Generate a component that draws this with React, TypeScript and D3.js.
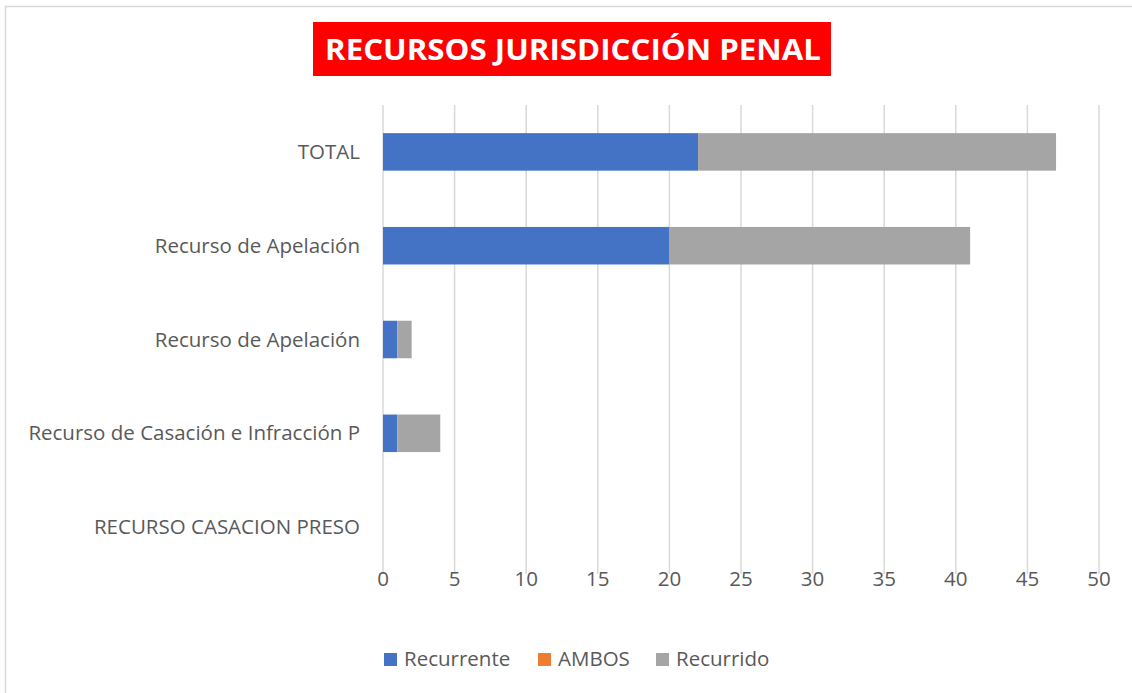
// Recursos jurisdicción penal - stacked horizontal bars
import { useEffect, useRef } from 'react'
import * as d3 from 'd3'

const categories = [
  'TOTAL',
  'Recurso de Apelación',
  'Recurso de Apelación ',
  'Recurso de Casación e Infracción P',
  'RECURSO CASACION PRESO',
]
const recurrente = [22, 20, 1, 1, 0]
const ambos = [0, 0, 0, 0, 0]
const recurrido = [25, 21, 1, 3, 0]
const seriesNames = ['Recurrente', 'AMBOS', 'Recurrido']
const seriesColors = ['#4472C4', '#ED7D31', '#A5A5A5']
const xTicks = [0, 5, 10, 15, 20, 25, 30, 35, 40, 45, 50]

const W = 1132
const H = 693
const FONT = "'Open Sans', 'Noto Sans', sans-serif"
const LABEL_SIZE = 20.5

export default function App() {
  const svgRef = useRef<SVGSVGElement>(null)

  useEffect(() => {
    if (!svgRef.current) return
    const svg = d3.select(svgRef.current)
    svg.selectAll('*').remove()

    const plot = { left: 383, right: 1099, top: 105, bottom: 574 }

    // chart frame
    svg.append('path')
      .attr('d', `M5.5,${H} V6.5 H${W}`)
      .attr('fill', 'none')
      .attr('stroke', '#D9D9D9')
      .attr('stroke-width', 1.5)

    // title
    svg.append('rect')
      .attr('x', 313).attr('y', 22)
      .attr('width', 518).attr('height', 54)
      .attr('fill', '#FF0000')
    svg.append('text')
      .attr('x', 573).attr('y', 50)
      .attr('dy', '0.36em')
      .attr('text-anchor', 'middle')
      .attr('font-family', FONT)
      .attr('font-weight', 'bold')
      .attr('font-size', 29)
      .attr('textLength', 496)
      .attr('lengthAdjust', 'spacingAndGlyphs')
      .attr('fill', '#fff')
      .text('RECURSOS JURISDICCIÓN PENAL')

    const x = d3.scaleLinear().domain([0, 50]).range([plot.left, plot.right])
    const y = d3.scaleBand<string>()
      .domain(categories)
      .range([plot.top, plot.bottom])
      .paddingInner(0.6)
      .paddingOuter(0.3)

    // gridlines
    svg.append('g')
      .selectAll('line')
      .data(xTicks)
      .join('line')
      .attr('x1', d => x(d)).attr('x2', d => x(d))
      .attr('y1', plot.top).attr('y2', plot.bottom)
      .attr('stroke', '#D9D9D9')
      .attr('stroke-width', 1.5)

    // tick labels
    svg.append('g')
      .selectAll('text')
      .data(xTicks)
      .join('text')
      .attr('x', d => x(d))
      .attr('y', 579)
      .attr('dy', '0.35em')
      .attr('text-anchor', 'middle')
      .attr('font-family', FONT)
      .attr('font-size', LABEL_SIZE)
      .attr('fill', '#595959')
      .text(d => String(d))

    // category labels
    svg.append('g')
      .selectAll('text')
      .data(categories)
      .join('text')
      .attr('x', 360)
      .attr('y', d => (y(d) ?? 0) + y.bandwidth() / 2)
      .attr('dy', '0.35em')
      .attr('text-anchor', 'end')
      .attr('font-family', FONT)
      .attr('font-size', LABEL_SIZE)
      .attr('fill', '#595959')
      .text(d => d.trim())

    // stacked bars
    const rows = categories.map((c, i) => ({
      cat: c, Recurrente: recurrente[i], AMBOS: ambos[i], Recurrido: recurrido[i],
    }))
    const stack = d3.stack<any>().keys(seriesNames)(rows)
    stack.forEach((layer, si) => {
      svg.append('g')
        .selectAll('rect')
        .data(layer.filter(d => d[1] - d[0] > 0))
        .join('rect')
        .attr('x', d => x(d[0]))
        .attr('y', d => y(d.data.cat) ?? 0)
        .attr('width', d => x(d[1]) - x(d[0]))
        .attr('height', y.bandwidth())
        .attr('fill', seriesColors[si])
    })

    // legend
    const legendX = [384, 538, 656]
    seriesNames.forEach((name, i) => {
      const lg = svg.append('g').attr('transform', `translate(${legendX[i]},659)`)
      lg.append('rect')
        .attr('x', 0).attr('y', -6)
        .attr('width', 13).attr('height', 13)
        .attr('fill', seriesColors[i])
      lg.append('text')
        .attr('x', 20).attr('y', 0)
        .attr('dy', '0.35em')
        .attr('font-family', FONT)
        .attr('font-size', LABEL_SIZE)
        .attr('fill', '#595959')
        .text(name)
    })
  }, [])

  return (
    <div style={{ position: 'absolute', left: 0, top: 0, background: '#fff' }}>
      <svg ref={svgRef} width={W} height={H} style={{ display: 'block' }} />
    </div>
  )
}
